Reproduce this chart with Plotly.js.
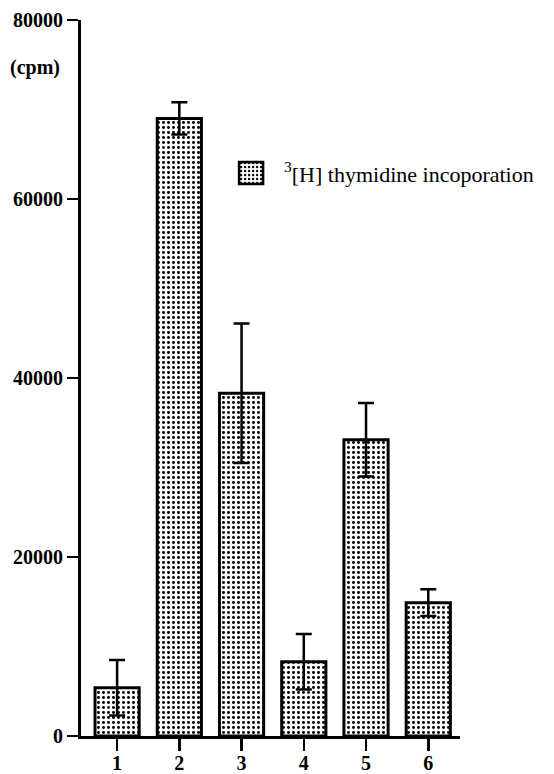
<!DOCTYPE html>
<html>
<head>
<meta charset="utf-8">
<script src="https://cdn.plot.ly/plotly-3.0.1.min.js"></script>
<style>html,body{margin:0;padding:0;background:#fff;}#chart{width:554px;height:774px;}</style>
</head>
<body>
<div id="chart"></div>
<script>
var categories = ['1', '2', '3', '4', '5', '6'];
var cpmValues = [5400, 69000, 38300, 8300, 33100, 14900];
var cpmErrors = [3100, 1800, 7800, 3100, 4100, 1500];
var yTickValues = [0, 20000, 40000, 60000, 80000];
var yTickLabels = ['0', '20000', '40000', '60000', '80000'];
var seriesName = '<sup>3</sup>[H] thymidine incoporation';

var serif = 'Liberation Serif, Times New Roman, serif';

var trace = {
  type: 'bar',
  x: categories,
  y: cpmValues,
  name: seriesName,
  showlegend: true,
  marker: {
    color: '#ffffff',
    line: {color: '#000000', width: 3},
    pattern: {shape: '.', fgcolor: '#000000', bgcolor: '#ffffff', size: 5, solidity: 0.28}
  },
  error_y: {type: 'data', array: cpmErrors, visible: true, color: '#000000', thickness: 2.5, width: 8}
};

var layout = {
  width: 554, height: 774,
  margin: {l: 81, r: 94, t: 20, b: 38, autoexpand: false},
  paper_bgcolor: '#ffffff', plot_bgcolor: '#ffffff',
  bargap: 0.29,
  showlegend: true,
  legend: {
    x: 0.396, y: 0.786, xanchor: 'left', yanchor: 'middle',
    bgcolor: 'rgba(0,0,0,0)', borderwidth: 0,
    font: {family: serif, size: 22, color: '#000000'}
  },
  xaxis: {
    type: 'category',
    range: [-0.58, 5.51],
    showline: true, linecolor: '#000000', linewidth: 3,
    ticks: 'outside', ticklen: 12, tickwidth: 2.5, tickcolor: '#000000',
    ticklabelstandoff: -5,
    showgrid: false, zeroline: false,
    tickfont: {family: serif, size: 20, color: '#000000', weight: 'bold'}
  },
  yaxis: {
    range: [0, 80000],
    tickvals: yTickValues, ticktext: yTickLabels,
    showline: true, linecolor: '#000000', linewidth: 3,
    ticks: 'outside', ticklen: 11, tickwidth: 2.5, tickcolor: '#000000',
    showgrid: false, zeroline: false,
    tickfont: {family: serif, size: 20, color: '#000000', weight: 'bold'}
  },
  annotations: [{
    text: '(cpm)', xref: 'paper', yref: 'paper', x: -0.192, y: 0.934,
    xanchor: 'left', yanchor: 'middle', showarrow: false,
    font: {family: serif, size: 20, color: '#000000', weight: 'bold'}
  }]
};

Plotly.newPlot('chart', [trace], layout, {displayModeBar: false, staticPlot: true}).then(function(gd){
  gd.querySelectorAll('.legend [clip-path]').forEach(function(el){
    el.removeAttribute('clip-path');
  });
  gd.querySelectorAll('.legend .legendpoints path').forEach(function(p){
    p.setAttribute('d', 'M12,11H-12V-11H12Z');
    p.style.strokeWidth = '2.5px';
  });
  gd.querySelectorAll('.legend .legendtext').forEach(function(t){
    t.setAttribute('x', '53');
  });
});
</script>
</body>
</html>
